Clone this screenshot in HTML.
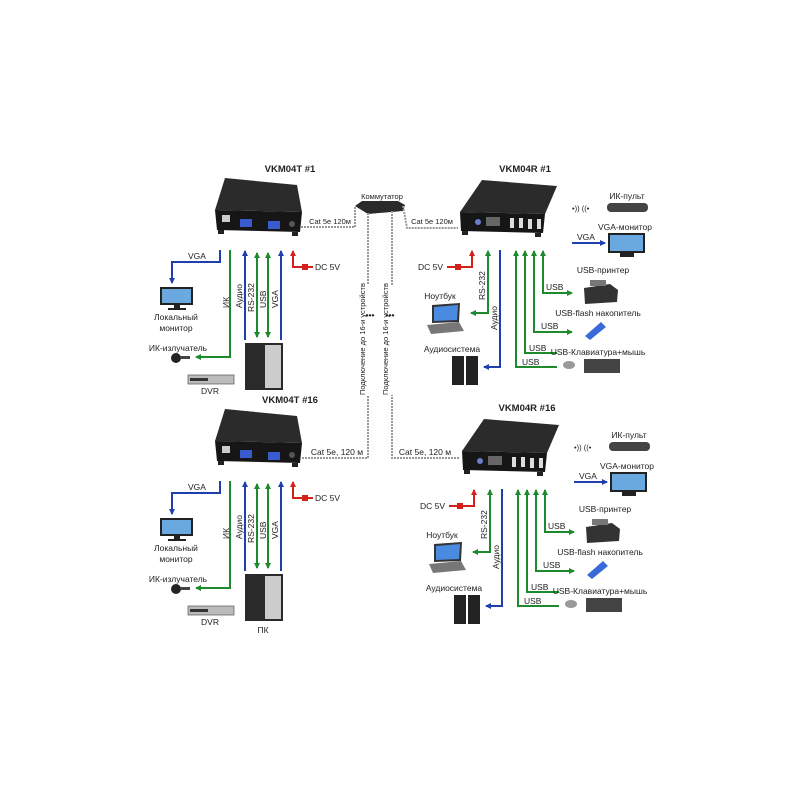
<!DOCTYPE html>
<html><head><meta charset="utf-8"><style>
html,body{margin:0;padding:0;background:#fff;}
svg{display:block;}
text{font-family:"Liberation Sans",sans-serif;font-size:8.5px;fill:#222;}
.t{font-weight:bold;font-size:9.5px;}
.s{font-size:7.5px;}
</style></head><body>
<svg width="800" height="800" viewBox="0 0 800 800" xmlns="http://www.w3.org/2000/svg">
<defs>
<marker id="ab" markerWidth="6" markerHeight="6" refX="5" refY="3" orient="auto" markerUnits="userSpaceOnUse"><path d="M0,0L6,3L0,6z" fill="#1f3fae"/></marker>
<marker id="ag" markerWidth="6" markerHeight="6" refX="5" refY="3" orient="auto" markerUnits="userSpaceOnUse"><path d="M0,0L6,3L0,6z" fill="#1d8a2c"/></marker>
<marker id="agb" markerWidth="6" markerHeight="6" refX="1" refY="3" orient="auto" markerUnits="userSpaceOnUse"><path d="M6,0L0,3L6,6z" fill="#1d8a2c"/></marker>
<marker id="ar" markerWidth="6" markerHeight="6" refX="5" refY="3" orient="auto" markerUnits="userSpaceOnUse"><path d="M0,0L6,3L0,6z" fill="#d3201b"/></marker>
</defs>

<!-- switch and cables -->
<text x="382" y="199" text-anchor="middle" class="s">Коммутатор</text>
<polygon points="355,206 362,201 398,201 405,205 403,211 368,214" fill="#2a2a2a"/>
<g fill="none" stroke="#999" stroke-width="2" stroke-dasharray="2,1">
<polyline points="301,227 355,227 355,206"/>
<polyline points="403,206 407,228 458,228"/>
<polyline points="368,213 368,458 301,458"/>
<polyline points="392,211 392,458 460,458"/>
</g>
<text x="330" y="224" class="s" text-anchor="middle">Cat 5e 120м</text>
<text x="432" y="224" class="s" text-anchor="middle">Cat 5e 120м</text>
<text x="337" y="455" text-anchor="middle">Cat 5e, 120 м</text>
<text x="425" y="455" text-anchor="middle">Cat 5e, 120 м</text>
<rect x="358" y="285" width="14" height="110" fill="#fff"/>
<rect x="381" y="285" width="14" height="110" fill="#fff"/>
<text transform="translate(365,395) rotate(-90)" class="s">Подключение до 16-и устройств</text>
<text transform="translate(388,395) rotate(-90)" class="s">Подключение до 16-и устройств</text>
<text x="370" y="318" text-anchor="middle" font-weight="bold">•••</text>
<text x="390" y="318" text-anchor="middle" font-weight="bold">•••</text>

<!-- TRANSMITTER #1 -->
<g id="tx1">
<text x="290" y="172" text-anchor="middle" class="t">VKM04T  #1</text>
<polygon points="225,178 297,185 302,212 215,210" fill="#2b2b2b"/>
<polygon points="215,210 302,212 300,232 217,230" fill="#161616"/>
<rect x="218" y="230" width="6" height="4" fill="#222"/><rect x="292" y="232" width="6" height="4" fill="#222"/>
<rect x="222" y="215" width="8" height="7" fill="#ccc"/>
<rect x="240" y="219" width="12" height="8" fill="#3a5ad0"/>
<rect x="268" y="221" width="12" height="8" fill="#3a5ad0"/>
<circle cx="292" cy="224" r="3" fill="#555"/>
<polyline points="220,250 220,262 172,262 172,283" fill="none" stroke="#1f3fae" stroke-width="2" marker-end="url(#ab)"/>
<text x="197" y="259" text-anchor="middle">VGA</text>
<polyline points="230,250 230,357 196,357" fill="none" stroke="#1d8a2c" stroke-width="2" marker-end="url(#ag)"/>
<line x1="245" y1="340" x2="245" y2="251" stroke="#1f3fae" stroke-width="2" marker-end="url(#ab)"/>
<line x1="257" y1="337" x2="257" y2="253" stroke="#1d8a2c" stroke-width="2" marker-end="url(#ag)" marker-start="url(#agb)"/>
<line x1="268" y1="337" x2="268" y2="253" stroke="#1d8a2c" stroke-width="2" marker-end="url(#ag)" marker-start="url(#agb)"/>
<line x1="281" y1="340" x2="281" y2="251" stroke="#1f3fae" stroke-width="2" marker-end="url(#ab)"/>
<polyline points="313,267 293,267 293,251" fill="none" stroke="#d3201b" stroke-width="2" marker-end="url(#ar)"/>
<rect x="302" y="264" width="6" height="6" fill="#d3201b"/>
<text x="315" y="270">DC 5V</text>
<text transform="translate(229,308) rotate(-90)">ИК</text>
<text transform="translate(242,308) rotate(-90)">Аудио</text>
<text transform="translate(254,312) rotate(-90)">RS-232</text>
<text transform="translate(266,308) rotate(-90)">USB</text>
<text transform="translate(278,308) rotate(-90)">VGA</text>
<rect x="160" y="287" width="33" height="18" fill="#222"/><rect x="162" y="289" width="29" height="14" fill="#6aa8e0"/>
<rect x="174" y="305" width="6" height="3" fill="#222"/><rect x="168" y="308" width="18" height="2" fill="#222"/>
<text x="176" y="320" text-anchor="middle">Локальный</text>
<text x="176" y="331" text-anchor="middle">монитор</text>
<text x="178" y="351" text-anchor="middle">ИК-излучатель</text>
<circle cx="176" cy="358" r="5" fill="#222"/><rect x="180" y="356" width="10" height="3" fill="#444"/>
<rect x="245" y="343" width="38" height="47" fill="#2a2a2a"/><rect x="265" y="345" width="16" height="43" fill="#ccc"/>
<rect x="188" y="375" width="46" height="9" fill="#bbb" stroke="#555" stroke-width="0.7"/><rect x="190" y="378" width="18" height="3" fill="#333"/>
<text x="210" y="394" text-anchor="middle">DVR</text>
</g>

<!-- TRANSMITTER #16 -->
<g transform="translate(0,231)">
<text x="290" y="172" text-anchor="middle" class="t">VKM04T  #16</text>
<polygon points="225,178 297,185 302,212 215,210" fill="#2b2b2b"/>
<polygon points="215,210 302,212 300,232 217,230" fill="#161616"/>
<rect x="218" y="230" width="6" height="4" fill="#222"/><rect x="292" y="232" width="6" height="4" fill="#222"/>
<rect x="222" y="215" width="8" height="7" fill="#ccc"/>
<rect x="240" y="219" width="12" height="8" fill="#3a5ad0"/>
<rect x="268" y="221" width="12" height="8" fill="#3a5ad0"/>
<circle cx="292" cy="224" r="3" fill="#555"/>
<polyline points="220,250 220,262 172,262 172,283" fill="none" stroke="#1f3fae" stroke-width="2" marker-end="url(#ab)"/>
<text x="197" y="259" text-anchor="middle">VGA</text>
<polyline points="230,250 230,357 196,357" fill="none" stroke="#1d8a2c" stroke-width="2" marker-end="url(#ag)"/>
<line x1="245" y1="340" x2="245" y2="251" stroke="#1f3fae" stroke-width="2" marker-end="url(#ab)"/>
<line x1="257" y1="337" x2="257" y2="253" stroke="#1d8a2c" stroke-width="2" marker-end="url(#ag)" marker-start="url(#agb)"/>
<line x1="268" y1="337" x2="268" y2="253" stroke="#1d8a2c" stroke-width="2" marker-end="url(#ag)" marker-start="url(#agb)"/>
<line x1="281" y1="340" x2="281" y2="251" stroke="#1f3fae" stroke-width="2" marker-end="url(#ab)"/>
<polyline points="313,267 293,267 293,251" fill="none" stroke="#d3201b" stroke-width="2" marker-end="url(#ar)"/>
<rect x="302" y="264" width="6" height="6" fill="#d3201b"/>
<text x="315" y="270">DC 5V</text>
<text transform="translate(229,308) rotate(-90)">ИК</text>
<text transform="translate(242,308) rotate(-90)">Аудио</text>
<text transform="translate(254,312) rotate(-90)">RS-232</text>
<text transform="translate(266,308) rotate(-90)">USB</text>
<text transform="translate(278,308) rotate(-90)">VGA</text>
<rect x="160" y="287" width="33" height="18" fill="#222"/><rect x="162" y="289" width="29" height="14" fill="#6aa8e0"/>
<rect x="174" y="305" width="6" height="3" fill="#222"/><rect x="168" y="308" width="18" height="2" fill="#222"/>
<text x="176" y="320" text-anchor="middle">Локальный</text>
<text x="176" y="331" text-anchor="middle">монитор</text>
<text x="178" y="351" text-anchor="middle">ИК-излучатель</text>
<circle cx="176" cy="358" r="5" fill="#222"/><rect x="180" y="356" width="10" height="3" fill="#444"/>
<rect x="245" y="343" width="38" height="47" fill="#2a2a2a"/><rect x="265" y="345" width="16" height="43" fill="#ccc"/>
<rect x="188" y="375" width="46" height="9" fill="#bbb" stroke="#555" stroke-width="0.7"/><rect x="190" y="378" width="18" height="3" fill="#333"/>
<text x="210" y="394" text-anchor="middle">DVR</text>
<text x="263" y="402" text-anchor="middle">ПК</text>
</g>

<!-- RECEIVER #1 -->
<g>
<text x="525" y="172" text-anchor="middle" class="t">VKM04R  #1</text>
<polygon points="482,180 557,186 545,214 460,212" fill="#2b2b2b"/>
<polygon points="460,212 545,214 543,233 461,231" fill="#161616"/>
<rect x="462" y="231" width="6" height="4" fill="#222"/><rect x="535" y="233" width="6" height="4" fill="#222"/>
<circle cx="478" cy="222" r="3" fill="#6a7fc8"/>
<rect x="486" y="217" width="14" height="9" fill="#666"/>
<rect x="510" y="218" width="4" height="10" fill="#ddd"/><rect x="519" y="218" width="4" height="10" fill="#ddd"/><rect x="528" y="219" width="4" height="10" fill="#ddd"/><rect x="537" y="219" width="4" height="10" fill="#ddd"/>
<polyline points="447,267 472,267 472,251" fill="none" stroke="#d3201b" stroke-width="2" marker-end="url(#ar)"/>
<rect x="455" y="264" width="6" height="6" fill="#d3201b"/>
<text x="418" y="270">DC 5V</text>
<polyline points="488,251 488,313 471,313" fill="none" stroke="#1d8a2c" stroke-width="2" marker-start="url(#agb)" marker-end="url(#ag)"/>
<text transform="translate(485,300) rotate(-90)">RS-232</text>
<polyline points="500,250 500,367 484,367" fill="none" stroke="#1f3fae" stroke-width="2" marker-end="url(#ab)"/>
<text transform="translate(497,330) rotate(-90)">Аудио</text>
<g fill="none" stroke="#1d8a2c" stroke-width="2">
<polyline points="543,251 543,293 572,293" marker-start="url(#agb)" marker-end="url(#ag)"/>
<polyline points="534,251 534,332 572,332" marker-start="url(#agb)" marker-end="url(#ag)"/>
<polyline points="525,251 525,353 557,353" marker-start="url(#agb)"/>
<polyline points="516,251 516,367 557,367" marker-start="url(#agb)"/>
</g>
<text x="546" y="290">USB</text><text x="541" y="329">USB</text><text x="529" y="351">USB</text><text x="522" y="365">USB</text>
<text x="627" y="199" text-anchor="middle">ИК-пульт</text>
<rect x="607" y="203" width="41" height="9" rx="4" fill="#444"/>
<text x="572" y="211" class="s">•))  ((•</text>
<text x="625" y="230" text-anchor="middle">VGA-монитор</text>
<rect x="608" y="233" width="37" height="20" fill="#222"/><rect x="610" y="235" width="33" height="16" fill="#6aa8e0"/><rect x="620" y="253" width="14" height="4" fill="#222"/>
<line x1="572" y1="243" x2="605" y2="243" stroke="#1f3fae" stroke-width="2" marker-end="url(#ab)"/>
<text x="577" y="240">VGA</text>
<text x="603" y="273" text-anchor="middle">USB-принтер</text>
<polygon points="584,288 610,284 618,290 617,302 585,304" fill="#333"/><rect x="590" y="280" width="16" height="6" fill="#777"/>
<text x="598" y="316" text-anchor="middle">USB-flash накопитель</text>
<polygon points="585,336 601,322 606,327 590,340" fill="#3a6ad8"/>
<text x="598" y="355" text-anchor="middle">USB-Клавиатура+мышь</text>
<ellipse cx="569" cy="365" rx="6" ry="4" fill="#999"/>
<rect x="584" y="359" width="36" height="14" fill="#444"/>
<text x="440" y="299" text-anchor="middle">Ноутбук</text>
<polygon points="432,305 460,303 459,322 432,323" fill="#333"/><polygon points="434,307 458,305 457,320 434,321" fill="#4a8ae0"/><polygon points="427,325 459,322 464,331 431,334" fill="#777"/>
<text x="452" y="352" text-anchor="middle">Аудиосистема</text>
<rect x="452" y="356" width="12" height="29" fill="#222"/><rect x="466" y="356" width="12" height="29" fill="#222"/>
</g>

<!-- RECEIVER #16 -->
<g transform="translate(2,239)">
<text x="525" y="172" text-anchor="middle" class="t">VKM04R  #16</text>
<polygon points="482,180 557,186 545,214 460,212" fill="#2b2b2b"/>
<polygon points="460,212 545,214 543,233 461,231" fill="#161616"/>
<rect x="462" y="231" width="6" height="4" fill="#222"/><rect x="535" y="233" width="6" height="4" fill="#222"/>
<circle cx="478" cy="222" r="3" fill="#6a7fc8"/>
<rect x="486" y="217" width="14" height="9" fill="#666"/>
<rect x="510" y="218" width="4" height="10" fill="#ddd"/><rect x="519" y="218" width="4" height="10" fill="#ddd"/><rect x="528" y="219" width="4" height="10" fill="#ddd"/><rect x="537" y="219" width="4" height="10" fill="#ddd"/>
<polyline points="447,267 472,267 472,251" fill="none" stroke="#d3201b" stroke-width="2" marker-end="url(#ar)"/>
<rect x="455" y="264" width="6" height="6" fill="#d3201b"/>
<text x="418" y="270">DC 5V</text>
<polyline points="488,251 488,313 471,313" fill="none" stroke="#1d8a2c" stroke-width="2" marker-start="url(#agb)" marker-end="url(#ag)"/>
<text transform="translate(485,300) rotate(-90)">RS-232</text>
<polyline points="500,250 500,367 484,367" fill="none" stroke="#1f3fae" stroke-width="2" marker-end="url(#ab)"/>
<text transform="translate(497,330) rotate(-90)">Аудио</text>
<g fill="none" stroke="#1d8a2c" stroke-width="2">
<polyline points="543,251 543,293 572,293" marker-start="url(#agb)" marker-end="url(#ag)"/>
<polyline points="534,251 534,332 572,332" marker-start="url(#agb)" marker-end="url(#ag)"/>
<polyline points="525,251 525,353 557,353" marker-start="url(#agb)"/>
<polyline points="516,251 516,367 557,367" marker-start="url(#agb)"/>
</g>
<text x="546" y="290">USB</text><text x="541" y="329">USB</text><text x="529" y="351">USB</text><text x="522" y="365">USB</text>
<text x="627" y="199" text-anchor="middle">ИК-пульт</text>
<rect x="607" y="203" width="41" height="9" rx="4" fill="#444"/>
<text x="572" y="211" class="s">•))  ((•</text>
<text x="625" y="230" text-anchor="middle">VGA-монитор</text>
<rect x="608" y="233" width="37" height="20" fill="#222"/><rect x="610" y="235" width="33" height="16" fill="#6aa8e0"/><rect x="620" y="253" width="14" height="4" fill="#222"/>
<line x1="572" y1="243" x2="605" y2="243" stroke="#1f3fae" stroke-width="2" marker-end="url(#ab)"/>
<text x="577" y="240">VGA</text>
<text x="603" y="273" text-anchor="middle">USB-принтер</text>
<polygon points="584,288 610,284 618,290 617,302 585,304" fill="#333"/><rect x="590" y="280" width="16" height="6" fill="#777"/>
<text x="598" y="316" text-anchor="middle">USB-flash накопитель</text>
<polygon points="585,336 601,322 606,327 590,340" fill="#3a6ad8"/>
<text x="598" y="355" text-anchor="middle">USB-Клавиатура+мышь</text>
<ellipse cx="569" cy="365" rx="6" ry="4" fill="#999"/>
<rect x="584" y="359" width="36" height="14" fill="#444"/>
<text x="440" y="299" text-anchor="middle">Ноутбук</text>
<polygon points="432,305 460,303 459,322 432,323" fill="#333"/><polygon points="434,307 458,305 457,320 434,321" fill="#4a8ae0"/><polygon points="427,325 459,322 464,331 431,334" fill="#777"/>
<text x="452" y="352" text-anchor="middle">Аудиосистема</text>
<rect x="452" y="356" width="12" height="29" fill="#222"/><rect x="466" y="356" width="12" height="29" fill="#222"/>
</g>
</svg>
</body></html>
